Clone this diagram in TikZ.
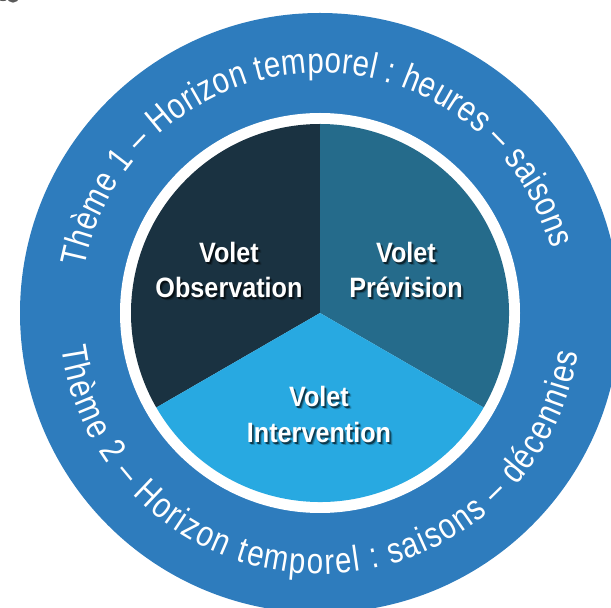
\documentclass[tikz,border=0pt]{standalone}
\usepackage{fontspec}
\setmainfont{Liberation Sans}
\newfontfamily\ringfont{Liberation Sans}[FakeStretch=0.82]
\newfontfamily\voletfont{Liberation Sans}[FakeStretch=0.9]
\usetikzlibrary{decorations.text}
\definecolor{ringblue}{HTML}{2E7CBD}
\definecolor{obscol}{HTML}{1A3241}
\definecolor{prevcol}{HTML}{256B8B}
\definecolor{intcol}{HTML}{28A9E1}
\definecolor{fraggray}{HTML}{5A5A5A}
\tikzset{
  voletnode/.style={font=\voletfont\bfseries\fontsize{28}{34}\selectfont, text=white, anchor=base, inner sep=0pt},
  voletshade/.style={voletnode, text=black},
  ringtext/.style={decorate, decoration={text along path, text color=white, text align=fit to path, text={#1}}}
}
\newcommand\voletline[4]{%
  \node[voletshade, opacity=.2] (#1s3) at ({#2+2.8},{#3-2.8}) {#4};
  \node[voletshade, opacity=.3] (#1s2) at ({#2+2.0},{#3-2.0}) {#4};
  \node[voletshade, opacity=.4] (#1s1) at ({#2+1.2},{#3-1.2}) {#4};
  \node[voletnode] (#1) at (#2,#3) {#4};}
\begin{document}
\begin{tikzpicture}[x=1pt,y=1pt]
\useasboundingbox (0,0) rectangle (611,608);
\clip (0,0) rectangle (611,608);
\coordinate (c) at (320,295);
% top-left fragment
\draw[fraggray, line width=2.2pt] (13,611) ellipse [x radius=5, y radius=4.5];
\fill[fraggray] (3,608.5) ellipse [x radius=4, y radius=1.6];
% rings
\fill[ringblue] (c) circle [radius=300];
\fill[white] (c) circle [radius=200];
\fill[obscol] (c) -- ++(90:189) arc [start angle=90, end angle=210, radius=189] -- cycle;
\fill[prevcol] (c) -- ++(-30:189) arc [start angle=-30, end angle=90, radius=189] -- cycle;
\fill[intcol] (c) -- ++(210:189) arc [start angle=210, end angle=330, radius=189] -- cycle;
% ring texts
\path[ringtext={|\ringfont\fontsize{36}{42}\selectfont|Thème 1 – Horizon temporel : heures – saisons}]
  (c) ++(169:240) arc [start angle=169, end angle=15.5, radius=240];
\path[ringtext={|\ringfont\fontsize{36}{42}\selectfont|Thème 2 – Horizon temporel : saisons – décennies}]
  (c) ++(187.6:261) arc [start angle=187.6, end angle=351.2, radius=261];
% volet labels
\voletline{obsA}{229}{345}{Volet}
\voletline{obsB}{229}{310}{Observation}
\voletline{prevA}{406}{345}{Volet}
\voletline{prevB}{406}{310}{Prévision}
\voletline{intA}{319}{201}{Volet}
\voletline{intB}{319}{165}{Intervention}
\end{tikzpicture}
\end{document}
